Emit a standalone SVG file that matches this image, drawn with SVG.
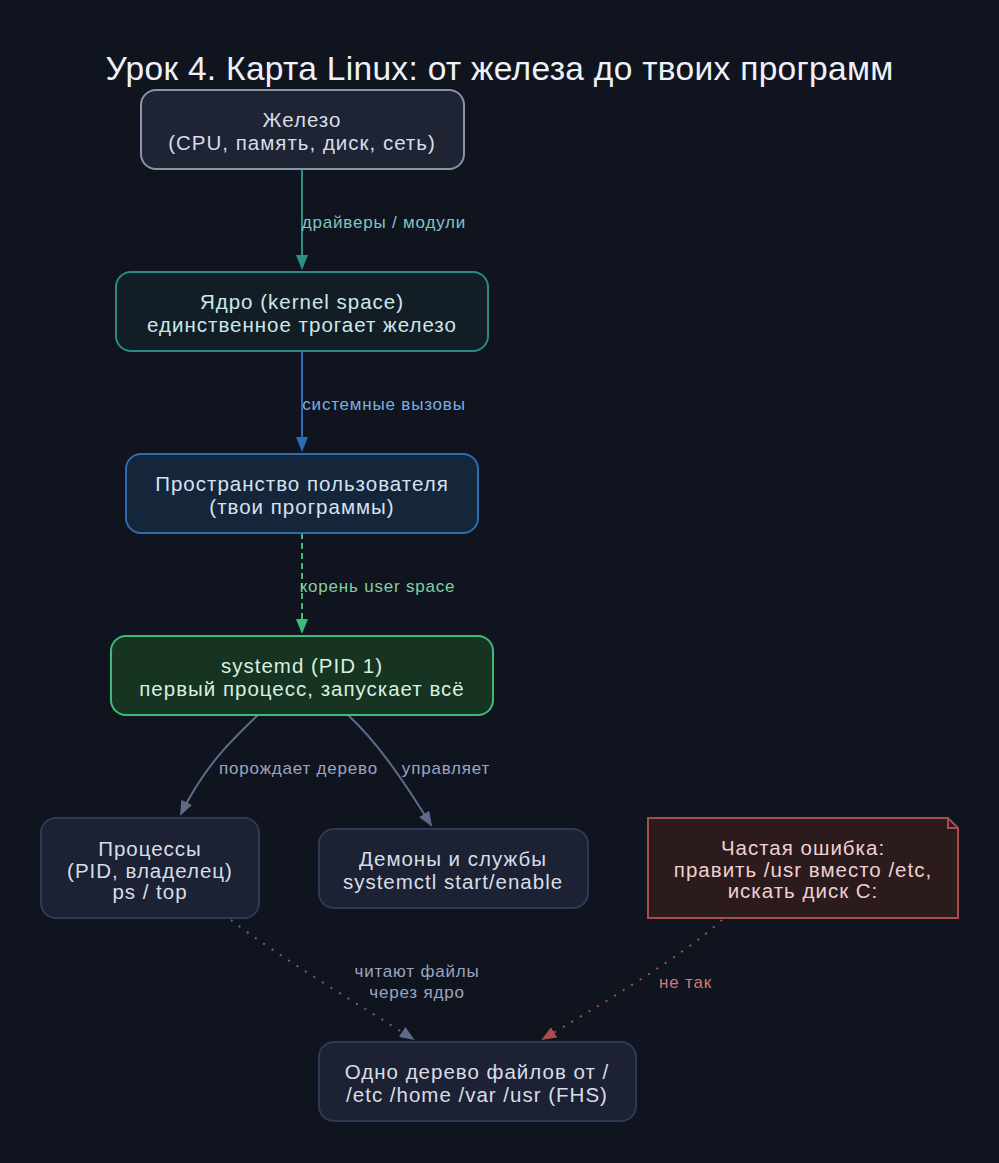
<svg xmlns="http://www.w3.org/2000/svg" width="999" height="1163" viewBox="0 0 999 1163">
<defs>
<style>
text{font-family:"Liberation Sans",Arial,sans-serif;text-anchor:middle}
.t{font-size:20.5px;letter-spacing:1px}
.l{font-size:17px;letter-spacing:0.8px}
.e{fill:none;stroke-width:2}
</style>
<marker id="aT" viewBox="0 0 15 12" refX="13" refY="6" markerWidth="15" markerHeight="12" orient="auto" markerUnits="userSpaceOnUse"><path d="M0,0 L15,6 L0,12z" fill="#2a9088"/></marker>
<marker id="aB" viewBox="0 0 15 12" refX="13" refY="6" markerWidth="15" markerHeight="12" orient="auto" markerUnits="userSpaceOnUse"><path d="M0,0 L15,6 L0,12z" fill="#2e6db0"/></marker>
<marker id="aG" viewBox="0 0 15 12" refX="13" refY="6" markerWidth="15" markerHeight="12" orient="auto" markerUnits="userSpaceOnUse"><path d="M0,0 L15,6 L0,12z" fill="#3dbb7a"/></marker>
<marker id="aS" viewBox="0 0 15 12" refX="13" refY="6" markerWidth="15" markerHeight="12" orient="auto" markerUnits="userSpaceOnUse"><path d="M0,0 L15,6 L0,12z" fill="#5d6a8a"/></marker>
<marker id="aR" viewBox="0 0 15 12" refX="13" refY="6" markerWidth="15" markerHeight="12" orient="auto" markerUnits="userSpaceOnUse"><path d="M0,0 L15,6 L0,12z" fill="#a84c4c"/></marker>
</defs>
<rect width="999" height="1163" fill="#10141f"/>
<text x="499.5" y="80" font-size="33.5" letter-spacing="0.3" fill="#eef1f7">Урок 4. Карта Linux: от железа до твоих программ</text>

<g id="connectors">
<path class="e" d="M302,169 L302,268" stroke="#2a9088" marker-end="url(#aT)"/>
<text class="l" x="384" y="228" fill="#7fc6c0">драйверы / модули</text>
<path class="e" d="M302,351 L302,450" stroke="#2e6db0" marker-end="url(#aB)"/>
<text class="l" x="384" y="410" fill="#7aaee0">системные вызовы</text>
<path class="e" d="M302,533 L302,632" stroke="#3dbb7a" stroke-dasharray="6,4" marker-end="url(#aG)"/>
<text class="l" x="377.5" y="592" fill="#80d0a0">корень user space</text>
<path class="e" d="M258,715 C232,740 205,765 181,814" stroke="#5d6a8a" marker-end="url(#aS)"/>
<text class="l" x="298.5" y="774" fill="#9aa6c0">порождает дерево</text>
<path class="e" d="M348,715 C375,740 400,775 431,825" stroke="#5d6a8a" marker-end="url(#aS)"/>
<text class="l" x="446" y="774" fill="#9aa6c0">управляет</text>
<path class="e" d="M231,920 C280,958 360,1005 413,1039" stroke="#5d6a8a" stroke-dasharray="2,8" marker-end="url(#aS)"/>
<text class="l" x="417" y="977" fill="#9aa6c0">читают файлы</text>
<text class="l" x="417" y="998" fill="#9aa6c0">через ядро</text>
<path class="e" d="M722,920 C680,958 600,1005 543,1039" stroke="#a84c4c" stroke-dasharray="2,8" marker-end="url(#aR)"/>
<text class="l" x="685.5" y="988" fill="#d07878">не так</text>
</g>

<g id="hw">
<rect x="141" y="90" width="323" height="79" rx="15" fill="#1e2433" stroke="#8a93a8" stroke-width="2"/>
<text class="t" x="302" y="127" fill="#d8dde8">Железо</text>
<text class="t" x="302" y="150" fill="#d8dde8">(CPU, память, диск, сеть)</text>
</g>
<g id="kernel">
<rect x="116" y="272" width="372" height="79" rx="15" fill="#121d26" stroke="#2a8a85" stroke-width="2"/>
<text class="t" x="302" y="309" fill="#cce8e8">Ядро (kernel space)</text>
<text class="t" x="302" y="332" fill="#cce8e8">единственное трогает железо</text>
</g>
<g id="userspace">
<rect x="126" y="454" width="352" height="79" rx="15" fill="#15253a" stroke="#2e6db0" stroke-width="2"/>
<text class="t" x="302" y="491" fill="#d4e2f2">Пространство пользователя</text>
<text class="t" x="302" y="514" fill="#d4e2f2">(твои программы)</text>
</g>
<g id="systemd">
<rect x="111" y="636" width="382" height="79" rx="15" fill="#173322" stroke="#3dbb7a" stroke-width="2"/>
<text class="t" x="302" y="673" fill="#d8f0e0">systemd (PID 1)</text>
<text class="t" x="302" y="696" fill="#d8f0e0">первый процесс, запускает всё</text>
</g>
<g id="procs">
<rect x="41" y="818" width="218" height="100" rx="15" fill="#1c2233" stroke="#2e3a55" stroke-width="2"/>
<text class="t" x="150" y="856" fill="#d8dde8">Процессы</text>
<text class="t" x="150" y="878" fill="#d8dde8">(PID, владелец)</text>
<text class="t" x="150" y="899" fill="#d8dde8">ps / top</text>
</g>
<g id="daemons">
<rect x="319" y="829" width="269" height="79" rx="15" fill="#1c2233" stroke="#2e3a55" stroke-width="2"/>
<text class="t" x="453" y="866" fill="#d8dde8">Демоны и службы</text>
<text class="t" x="453" y="889" fill="#d8dde8">systemctl start/enable</text>
</g>
<g id="mistake">
<path d="M648,818 L948,818 L958,828 L958,918 L648,918 Z" fill="#2b1b1d" stroke="#a84c4c" stroke-width="2"/>
<path d="M948,818 L948,828 L958,828" fill="none" stroke="#a84c4c" stroke-width="2"/>
<text class="t" x="803" y="855" fill="#f0d0d0">Частая ошибка:</text>
<text class="t" x="803" y="877" fill="#f0d0d0">править /usr вместо /etc,</text>
<text class="t" x="803" y="898" fill="#f0d0d0">искать диск C:</text>
</g>
<g id="fhs">
<rect x="319" y="1042" width="317" height="79" rx="15" fill="#1c2233" stroke="#2e3a55" stroke-width="2"/>
<text class="t" x="477" y="1079" fill="#d8dde8">Одно дерево файлов от /</text>
<text class="t" x="477" y="1102" fill="#d8dde8">/etc /home /var /usr (FHS)</text>
</g>
</svg>
